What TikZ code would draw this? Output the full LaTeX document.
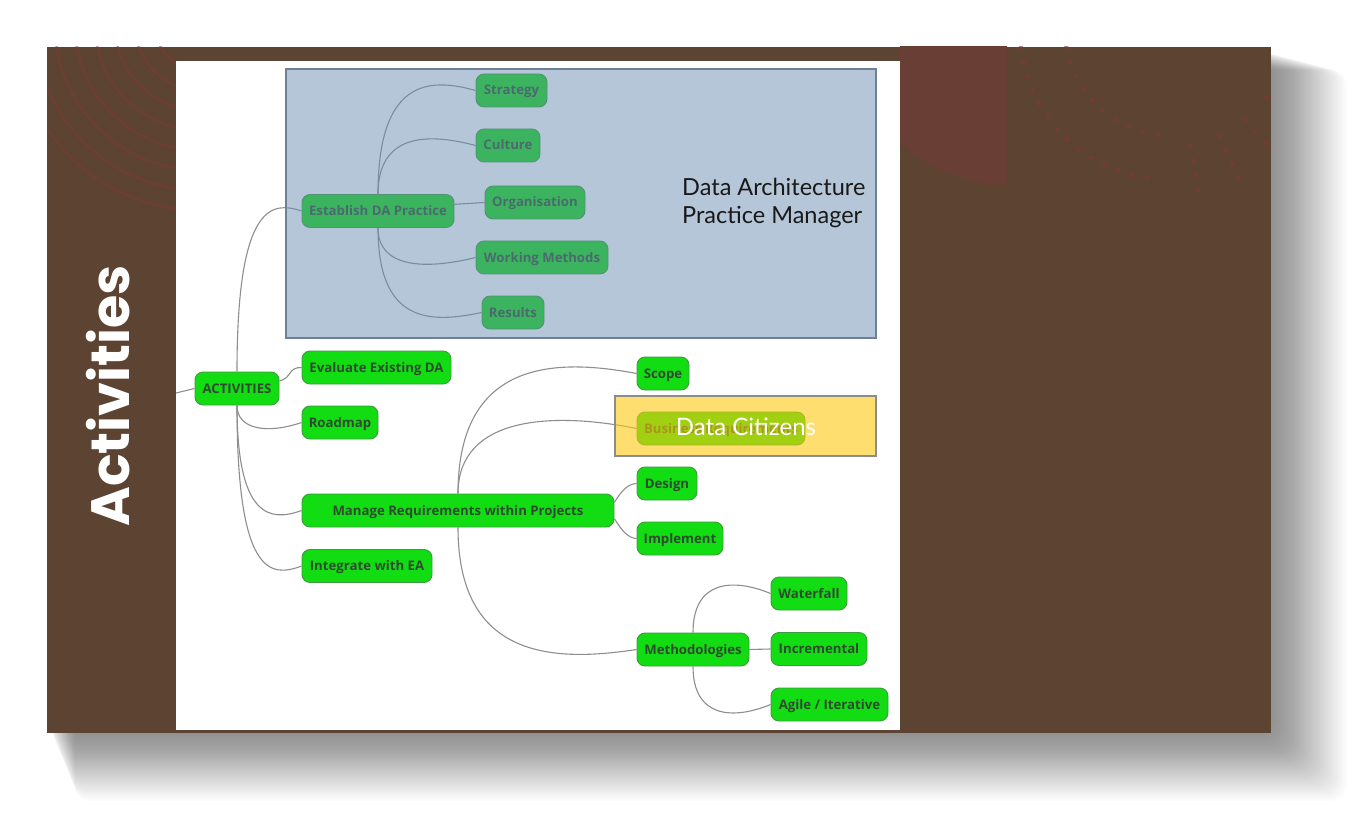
\documentclass[tikz,border=0pt]{standalone}
\usepackage{fontspec}
\setmainfont{Open Sans}[BoldFont={Open Sans Bold}]
\newfontfamily\titlefont{Poppins}
\newfontfamily\labelfont{Lato}
\definecolor{slidebrown}{HTML}{5C4332}
\definecolor{decorred}{HTML}{7E3A37}
\definecolor{decorlight}{HTML}{693E34}
\definecolor{nodegreen}{HTML}{12DC12}
\definecolor{nodeborder}{HTML}{3E9A3E}
\definecolor{nodetext}{HTML}{2E4B30}
\definecolor{edgegray}{HTML}{8E8E8E}
\definecolor{overlayblue}{HTML}{688BB0}
\definecolor{overlayborder}{HTML}{6D8096}
\definecolor{overlayyellow}{HTML}{FFC811}
\definecolor{yellowborder}{HTML}{8C8C8C}
\begin{document}
\begin{tikzpicture}[x=1pt,y=-1pt,
  mmnode/.style={draw=nodeborder, line width=0.9pt, fill=nodegreen, rounded corners=8pt,
    minimum height=33pt, inner xsep=0pt, inner ysep=0pt, text=nodetext,
    text height=10pt, text depth=1pt,
    font=\fontsize{13.2}{15}\selectfont\bfseries},
  edge/.style={draw=edgegray, line width=1.1pt},
  decorarc/.style={draw=decorred, line width=2.5pt, opacity=0.5},
  decordash/.style={draw=decorred, line width=4pt, opacity=0.6, dash pattern=on 5pt off 10pt}]
\useasboundingbox (0,0) rectangle (1366,829);
\fill[white] (0,0) rectangle (1366,829);
% shadow
\foreach \i in {1,...,40}
  \fill[black, fill opacity=0.012, rounded corners=16pt] (47+\i*0.7, 50+\i*0.5) rectangle (1271+\i*1.9, 733+\i*1.7);
% slide
\fill[slidebrown] (47,47) rectangle (1271,733);
\begin{scope}
  \clip (47,47) rectangle (1271,733);
  \foreach \r in {45,65,85,105,125,145,165,185}
    \draw[decorarc] (200,25) ++(180:\r) arc[start angle=180, end angle=90, radius=\r];
  \begin{scope}
    \clip (900,47) rectangle (1007,186);
    \fill[decorlight] (1010,20) circle (165);
  \end{scope}
  \draw[decordash] (1170,30) ++(180:150) arc[start angle=180, end angle=95, radius=150];
  \draw[decordash] (1170,30) ++(180:105) arc[start angle=180, end angle=92, radius=105];
  \foreach \a in {20,35,50,65,80}
    \draw[decordash] (1170,30) ++(\a:115) -- ++(\a:60);
\end{scope}
% title
\node[rotate=90, text=white, font=\titlefont\fontsize{54}{56}\selectfont\bfseries] (title) at (108,396) {Activities};
% panel
\fill[white] (176,61) rectangle (900,730);
% nodes
\node[mmnode, minimum width=84pt] (act) at (237,388.5) {ACTIVITIES};
\node[mmnode, minimum width=149pt] (eval) at (376.5,367.5) {Evaluate Existing DA};
\node[mmnode, minimum width=76pt] (road) at (340,422.5) {Roadmap};
\node[mmnode, minimum width=312pt] (man) at (458,510.5) {Manage Requirements within Projects};
\node[mmnode, minimum width=130pt] (int) at (367,566) {Integrate with EA};
\node[mmnode, minimum width=152pt] (est) at (378,211) {Establish DA Practice};
\node[mmnode, minimum width=71pt] (strat) at (511.5,90.5) {Strategy};
\node[mmnode, minimum width=64pt] (cult) at (508,145.5) {Culture};
\node[mmnode, minimum width=100pt] (org) at (535,202.5) {Organisation};
\node[mmnode, minimum width=132pt] (work) at (542,257.5) {Working Methods};
\node[mmnode, minimum width=62pt] (res) at (513,312.5) {Results};
\node[mmnode, minimum width=52pt] (scope) at (663,373.5) {Scope};
\node[mmnode, minimum width=168pt] (bus) at (721,428.5) {Business Requirements};
\node[mmnode, minimum width=60pt] (design) at (667,483.5) {Design};
\node[mmnode, minimum width=86pt] (impl) at (680,538.5) {Implement};
\node[mmnode, minimum width=112pt] (meth) at (693,649.5) {Methodologies};
\node[mmnode, minimum width=76pt] (water) at (809,593.5) {Waterfall};
\node[mmnode, minimum width=96pt] (incr) at (819,649) {Incremental};
\node[mmnode, minimum width=117pt] (agile) at (829.5,704.5) {Agile / Iterative};
\coordinate (lin) at (176,393);
% edges
\draw[edge] (lin) -- (act.west);
\draw[edge] (act.north) .. controls (237,203) and (272,201) .. (est.west);
\draw[edge] (act.10) .. controls (292,378) and (288,367) .. (eval.west);
\draw[edge] (act.south) .. controls (237,430) and (268,434) .. (road.west);
\draw[edge] (act.south) .. controls (237,518) and (270,522) .. (man.west);
\draw[edge] (act.south) .. controls (237,575) and (270,578) .. (int.west);
\draw[edge] (est.north) .. controls (378,80) and (428,77) .. (strat.west);
\draw[edge] (est.north) .. controls (378,135) and (425,132) .. (cult.west);
\draw[edge] (est.5) -- (org.west);
\draw[edge] (est.south) .. controls (378,268) and (425,270) .. (work.west);
\draw[edge] (est.south) .. controls (378,322) and (428,324) .. (res.west);
\draw[edge] (man.north) .. controls (458,360) and (555,358) .. (scope.west);
\draw[edge] (man.north) .. controls (458,415) and (555,412) .. (bus.west);
\draw[edge] (man.3) .. controls (622,490) and (628,484) .. (design.west);
\draw[edge] (man.-3) .. controls (622,531) and (628,538) .. (impl.west);
\draw[edge] (man.south) .. controls (458,660) and (555,662) .. (meth.west);
\draw[edge] (meth.north) .. controls (693,580) and (733,578) .. (water.west);
\draw[edge] (meth.east) -- (incr.west);
\draw[edge] (meth.south) .. controls (693,718) and (733,720) .. (agile.west);
% blue overlay
\draw[draw=overlayborder, line width=1.5pt, fill=overlayblue, fill opacity=0.49] (286,69) rectangle (876,338);
\node[anchor=north west, align=left, inner sep=0pt, text=black!90, font=\labelfont\fontsize{23.5}{28}\selectfont] (dapm) at (682,178) {Data Architecture\\Practice Manager};
% yellow overlay
\draw[draw=yellowborder, line width=1.5pt, fill=overlayyellow, fill opacity=0.6] (615,396) rectangle (876,456);
\node[text=white, inner sep=0pt, font=\labelfont\fontsize{24}{26}\selectfont] (dc) at (746,427) {Data Citizens};
\end{tikzpicture}
\end{document}
